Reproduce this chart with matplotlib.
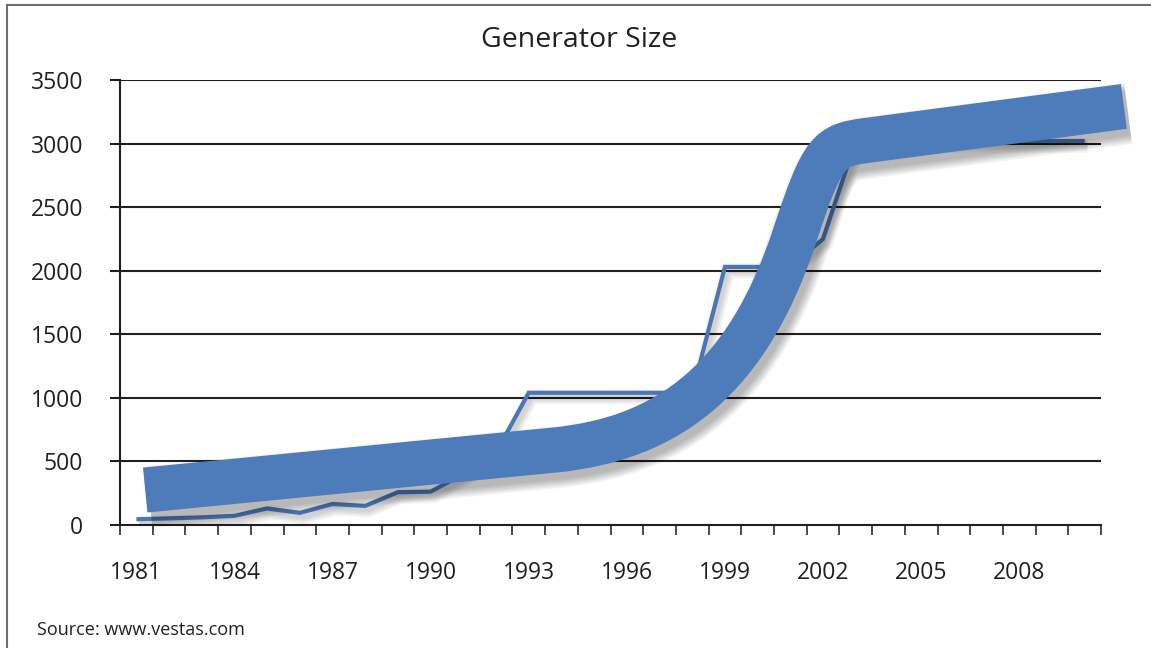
import numpy as np
import matplotlib
matplotlib.use("Agg")
import matplotlib.pyplot as plt
import matplotlib.patheffects as pe
from matplotlib.lines import Line2D
from matplotlib.path import Path
from matplotlib.patches import PathPatch

plt.rcParams['font.family'] = ['Open Sans', 'DejaVu Sans']

# generator size per year (kW)
years = list(range(1981, 2011))
sizes = [45, 52, 60, 72, 130, 95, 165, 150, 258, 262,
         400, 570, 1040, 1040, 1040, 1040, 1040, 1040, 2030, 2030,
         2030, 2250, 3020, 3020, 3020, 3020, 3020, 3020, 3020, 3020]

# thick trend band over the data: straight, S-bend (two cubic curves), straight
trend_years = [1981.27, 1993.80, 1997.29, 1999.70, 2001.14,
               2001.99, 2002.18, 2003.31, 2011.20]
trend_values = [275, 590, 680, 1152, 2281,
                2945, 2985, 3024, 3292]
trend_codes = [Path.MOVETO, Path.LINETO, Path.CURVE4, Path.CURVE4, Path.CURVE4,
               Path.CURVE4, Path.CURVE4, Path.CURVE4, Path.LINETO]

label_years = [1981, 1984, 1987, 1990, 1993, 1996, 1999, 2002, 2005, 2008]
y_ticks = [0, 500, 1000, 1500, 2000, 2500, 3000, 3500]

title = "Generator Size"
source = "Source: www.vestas.com"

dark = "#231f20"
blue = "#4e7cba"

fig = plt.figure(figsize=(11.51, 6.48), dpi=100)
ax = fig.add_axes([120 / 1151, 1 - 525 / 648, 981 / 1151, 445 / 648])

ax.set_xlim(1980.5, 2010.5)
ax.set_ylim(0, 3500)

# grid lines (the 3500 one is also the top edge)
for v in y_ticks[1:]:
    ax.axhline(v, color=dark, lw=1.5, zorder=1)

for s in ["top", "right"]:
    ax.spines[s].set_visible(False)
for s in ["left", "bottom"]:
    ax.spines[s].set_color(dark)
    ax.spines[s].set_linewidth(1.5)

ax.set_yticks(y_ticks)
ax.set_yticklabels([str(v) for v in y_ticks])
ax.tick_params(axis="y", direction="out", length=7.5, width=1.5, color=dark,
               labelsize=16.5, labelcolor=dark, pad=19)

ax.set_xticks(np.arange(1980.5, 2011, 1))
ax.set_xticklabels([])
ax.tick_params(axis="x", which="major", direction="out", length=7.5, width=1.3,
               color="#3a3a3a")
ax.set_xticks(label_years, labels=[str(y) for y in label_years], minor=True)
ax.tick_params(axis="x", which="minor", length=0, labelsize=16.5,
               labelcolor=dark, pad=26)

# soft shadows built from a few wide, faint strokes
def soft_shadow(off, widths, alpha):
    return [pe.SimpleLineShadow(offset=off, shadow_color="black", alpha=alpha,
                                linewidth=w) for w in widths]

line_fx = soft_shadow((2, -3), [3, 5, 7, 9, 11], 0.035) + [pe.Normal()]
ax.plot(years, sizes, color="#4a76b5", lw=3, zorder=3,
        solid_joinstyle="miter", solid_capstyle="butt", path_effects=line_fx)

band_w = 32.5
band_path = Path(np.column_stack([trend_years, trend_values]), trend_codes)
band = PathPatch(band_path, fill=False, edgecolor=blue, lw=band_w,
                 capstyle="butt", joinstyle="round", zorder=4, clip_on=False,
                 transform=ax.transData)
band.set_path_effects(soft_shadow((3, -5), [band_w + 2 * k for k in range(7)], 0.045)
                      + [pe.Normal()])
ax.add_patch(band)

fig.text(0.503, 1 - 40 / 648, title, ha="center", va="center",
         fontsize=20.5, color=dark)
fig.text(37 / 1151, 1 - 630 / 648, source, ha="left", va="center",
         fontsize=13, color=dark)

# outer frame (left and top only)
frame = "#6d6d6d"
fig.add_artist(Line2D([7 / 1151, 7 / 1151], [0, 1 - 5 / 648],
                      transform=fig.transFigure, color=frame, lw=1.5))
fig.add_artist(Line2D([7 / 1151, 1], [1 - 5 / 648, 1 - 5 / 648],
                      transform=fig.transFigure, color=frame, lw=1.5))

fig.savefig("out.png", dpi=100)
